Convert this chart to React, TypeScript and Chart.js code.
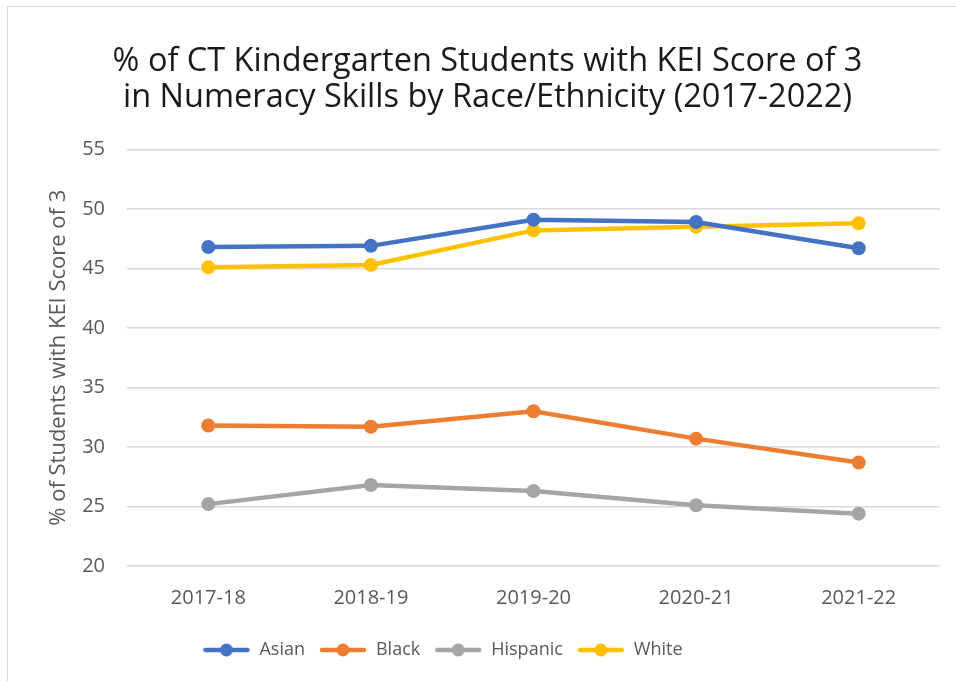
import React, { useEffect, useRef } from "react";
import { Chart, registerables } from "chart.js";

Chart.register(...registerables);

const categories = ["2017-18", "2018-19", "2019-20", "2020-21", "2021-22"];
const asian = [46.8, 46.9, 49.1, 48.9, 46.7];
const black = [31.8, 31.7, 33.0, 30.7, 28.7];
const hispanic = [25.2, 26.8, 26.3, 25.1, 24.4];
const white = [45.1, 45.3, 48.2, 48.5, 48.8];
const yTicks = [20, 25, 30, 35, 40, 45, 50, 55];
const titleLines = [
  "% of CT Kindergarten Students with KEI Score of 3",
  "in Numeracy Skills by Race/Ethnicity (2017-2022)",
];
const yTitle = "% of Students with KEI Score of 3";

const FONT = "'Open Sans', 'Noto Sans', sans-serif";

function legendIcon(color: string) {
  const c = document.createElement("canvas");
  c.width = 48;
  c.height = 16;
  const ctx = c.getContext("2d")!;
  ctx.strokeStyle = color;
  ctx.lineWidth = 4.5;
  ctx.lineCap = "round";
  ctx.beginPath();
  ctx.moveTo(3, 8);
  ctx.lineTo(45, 8);
  ctx.stroke();
  ctx.fillStyle = color;
  ctx.beginPath();
  ctx.arc(24, 8, 6.5, 0, Math.PI * 2);
  ctx.fill();
  return c;
}

const legendShift = {
  id: "legendShift",
  afterLayout(chart: any) {
    const lg = chart.legend;
    if (lg) {
      lg.left -= 45;
      lg.right -= 45;
    }
  },
};

export default function App() {
  const ref = useRef<HTMLCanvasElement>(null);
  useEffect(() => {
    const series = [
      { label: "Asian", data: asian, color: "#4472C4" },
      { label: "Black", data: black, color: "#ED7D31" },
      { label: "Hispanic", data: hispanic, color: "#A5A5A5" },
      { label: "White", data: white, color: "#FFC000" },
    ];
    const chart = new Chart(ref.current!, {
      type: "line",
      data: {
        labels: categories,
        datasets: series.map((s) => ({
          label: s.label,
          data: s.data,
          borderColor: s.color,
          backgroundColor: s.color,
          borderWidth: 4.5,
          pointRadius: 7,
          pointHoverRadius: 7,
          pointBorderWidth: 0,
          pointStyle: "circle",
          tension: 0,
          fill: false,
        })),
      },
      plugins: [legendShift],
      options: {
        responsive: false,
        animation: false,
        layout: { padding: { left: 35, right: 16, top: 37, bottom: 12 } },
        plugins: {
          tooltip: { enabled: false },
          title: {
            display: true,
            text: titleLines,
            color: "#1a1a1a",
            font: { family: FONT, size: 32.5, weight: "normal", lineHeight: 1.13 },
            padding: { top: 6, bottom: 33 },
          },
          legend: {
            position: "bottom",
            labels: {
              color: "#595959",
              font: { family: FONT, size: 18 },
              usePointStyle: true,
              pointStyleWidth: 48,
              padding: 14,
              generateLabels: (ch: any) =>
                ch.data.datasets.map((d: any, i: number) => ({
                  text: d.label,
                  fillStyle: d.borderColor,
                  strokeStyle: d.borderColor,
                  pointStyle: legendIcon(d.borderColor),
                  fontColor: "#595959",
                  lineWidth: 0,
                  hidden: false,
                  datasetIndex: i,
                })),
            },
          },
        },
        scales: {
          x: {
            offset: true,
            grid: { display: false, drawTicks: false },
            border: { display: false },
            afterFit: (axis: any) => {
              axis.height = 61;
            },
            ticks: {
              color: "#595959",
              font: { family: FONT, size: 20 },
              padding: 20,
              maxRotation: 0,
            },
          },
          y: {
            min: 20,
            max: 55,
            afterBuildTicks: (axis: any) => {
              axis.ticks = yTicks.map((v) => ({ value: v }));
            },
            afterFit: (axis: any) => {
              axis.width = 92;
            },
            grid: { color: "#d9d9d9", lineWidth: 1.5, drawTicks: false },
            border: { display: false },
            ticks: {
              color: "#595959",
              font: { family: FONT, size: 20 },
              padding: 22,
            },
            title: {
              display: true,
              text: yTitle,
              color: "#595959",
              font: { family: FONT, size: 22, weight: "normal" },
              padding: { top: 11, bottom: 9 },
            },
          },
        },
      },
    });
    return () => chart.destroy();
  }, []);
  return (
    <div
      style={{
        position: "fixed",
        left: 0,
        top: 0,
        width: 956,
        height: 681,
        background: "#fff",
        overflow: "hidden",
      }}
    >
      <div
        style={{
          position: "absolute",
          left: 7,
          top: 6,
          width: 1000,
          height: 800,
          border: "1.5px solid #d9d9d9",
          boxSizing: "border-box",
        }}
      />
      <canvas
        ref={ref}
        width={956}
        height={681}
        style={{ position: "absolute", left: 0, top: 0 }}
      />
    </div>
  );
}
